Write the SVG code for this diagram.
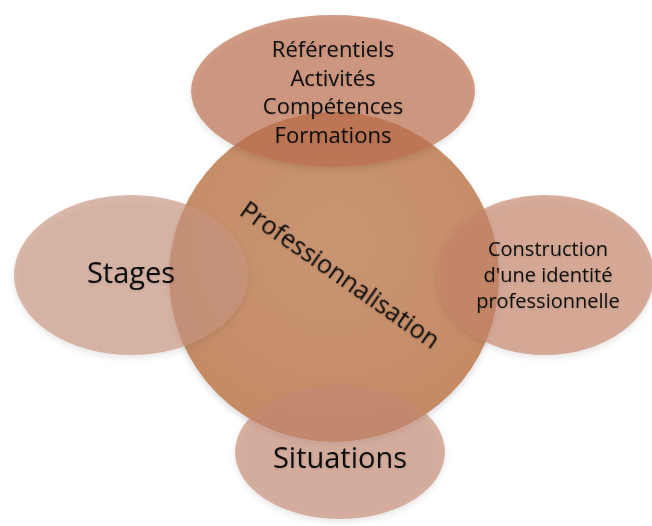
<svg xmlns="http://www.w3.org/2000/svg" width="652" height="526" viewBox="0 0 652 526">
<style>
.t{font-family:"Open Sans","Liberation Sans",sans-serif;fill:#0d0d0d;text-anchor:middle;filter:url(#ts)}
.sh{filter:url(#ds)}
</style>
<defs>
<filter id="ds" x="-20%" y="-20%" width="140%" height="150%">
<feDropShadow dx="0" dy="3" stdDeviation="3" flood-color="#000" flood-opacity="0.15"/>
</filter>
<filter id="ts" x="-10%" y="-30%" width="120%" height="160%">
<feDropShadow dx="0.5" dy="1" stdDeviation="1" flood-color="#000" flood-opacity="0.15"/>
</filter>
<radialGradient id="gc" cx="0.5" cy="0.4" r="0.6">
<stop offset="0" stop-color="#CA9573"/>
<stop offset="1" stop-color="#C48A64"/>
</radialGradient>
</defs>
<g id="centre">
<circle class="sh" cx="334" cy="277" r="165" fill="url(#gc)"/>
</g>
<g id="referentiels">
<ellipse class="sh" cx="333" cy="91" rx="142" ry="76" fill="#BC6E4C" fill-opacity="0.68"/>
<text class="t" font-size="22" x="333" y="57">Référentiels</text>
<text class="t" font-size="22" x="333" y="86">Activités</text>
<text class="t" font-size="22" x="333" y="114">Compétences</text>
<text class="t" font-size="22" x="333" y="143">Formations</text>
</g>
<g id="stages">
<ellipse class="sh" cx="131" cy="275" rx="117" ry="80" fill="#C7947F" fill-opacity="0.66"/>
<text class="t" font-size="29" x="131" y="283">Stages</text>
</g>
<g id="construction">
<ellipse class="sh" cx="545" cy="275" rx="109" ry="80" fill="#C6846A" fill-opacity="0.66"/>
<text class="t" font-size="20" x="548" y="256">Construction</text>
<text class="t" font-size="20" x="548" y="282">d'une identité</text>
<text class="t" font-size="20" x="548" y="308">professionnelle</text>
</g>
<g id="situations">
<ellipse class="sh" cx="340" cy="452" rx="105" ry="67" fill="#C58A75" fill-opacity="0.66"/>
<text class="t" font-size="29" x="340" y="468">Situations</text>
</g>
<g id="label-centre">
<text class="t" font-size="25" transform="translate(335,282) rotate(35)">Professionnalisation</text>
</g>
<g id="connectors"/>
</svg>
